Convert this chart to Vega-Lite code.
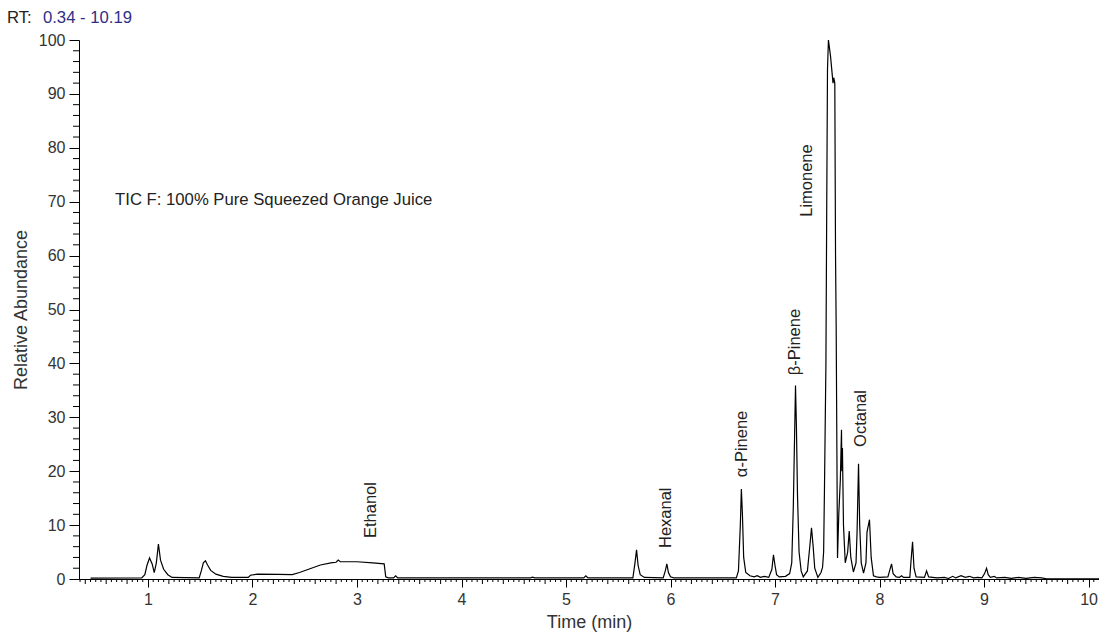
{
  "$schema": "https://vega.github.io/schema/vega-lite/v6.json",
  "width": 1020,
  "height": 539,
  "autosize": {"type": "none"},
  "padding": {"left": 79, "top": 40, "right": 0, "bottom": 57},
  "background": "white",
  "config": {
    "view": {"stroke": null},
    "font": "Liberation Sans",
    "axis": {
      "domainColor": "black",
      "tickColor": "black",
      "labelColor": "#333333",
      "titleColor": "#333333",
      "labelFont": "Liberation Sans",
      "titleFont": "Liberation Sans",
      "labelFontSize": 16,
      "titleFontSize": 18,
      "titleFontWeight": "normal",
      "grid": false
    }
  },
  "datasets": {
    "trace": [
      {"t": 0.45, "a": 0.15}, {"t": 0.94, "a": 0.2}, {"t": 0.97, "a": 0.8}, {"t": 0.99, "a": 2.5},
      {"t": 1.015, "a": 3.9}, {"t": 1.04, "a": 2.8}, {"t": 1.06, "a": 1.2}, {"t": 1.08, "a": 3.0},
      {"t": 1.10, "a": 6.5}, {"t": 1.12, "a": 3.5}, {"t": 1.15, "a": 1.8}, {"t": 1.19, "a": 0.8},
      {"t": 1.23, "a": 0.3}, {"t": 1.49, "a": 0.2}, {"t": 1.51, "a": 1.5}, {"t": 1.53, "a": 3.0},
      {"t": 1.55, "a": 3.4}, {"t": 1.57, "a": 2.6}, {"t": 1.60, "a": 1.6}, {"t": 1.65, "a": 0.9},
      {"t": 1.72, "a": 0.5}, {"t": 1.80, "a": 0.3}, {"t": 1.96, "a": 0.3}, {"t": 1.98, "a": 0.7},
      {"t": 2.05, "a": 0.9}, {"t": 2.25, "a": 0.85}, {"t": 2.38, "a": 0.8}, {"t": 2.45, "a": 1.2},
      {"t": 2.55, "a": 1.9}, {"t": 2.65, "a": 2.6}, {"t": 2.75, "a": 3.0}, {"t": 2.80, "a": 3.1},
      {"t": 2.82, "a": 3.5}, {"t": 2.84, "a": 3.2}, {"t": 3.0, "a": 3.2}, {"t": 3.15, "a": 3.0},
      {"t": 3.26, "a": 2.8}, {"t": 3.275, "a": 0.4}, {"t": 3.30, "a": 0.2}, {"t": 3.35, "a": 0.2},
      {"t": 3.37, "a": 0.6}, {"t": 3.39, "a": 0.2}, {"t": 4.66, "a": 0.2}, {"t": 4.68, "a": 0.35},
      {"t": 4.70, "a": 0.2}, {"t": 5.17, "a": 0.2}, {"t": 5.19, "a": 0.6}, {"t": 5.21, "a": 0.2},
      {"t": 5.64, "a": 0.2}, {"t": 5.66, "a": 3.0}, {"t": 5.675, "a": 5.4}, {"t": 5.69, "a": 2.5},
      {"t": 5.71, "a": 0.8}, {"t": 5.75, "a": 0.3}, {"t": 5.93, "a": 0.2}, {"t": 5.95, "a": 1.5},
      {"t": 5.965, "a": 2.8}, {"t": 5.98, "a": 1.2}, {"t": 6.0, "a": 0.4}, {"t": 6.03, "a": 0.2},
      {"t": 6.63, "a": 0.2}, {"t": 6.65, "a": 1.5}, {"t": 6.668, "a": 10}, {"t": 6.678, "a": 16.7},
      {"t": 6.688, "a": 12}, {"t": 6.70, "a": 4}, {"t": 6.72, "a": 1.2}, {"t": 6.76, "a": 0.6},
      {"t": 6.80, "a": 0.4}, {"t": 6.83, "a": 0.6}, {"t": 6.86, "a": 0.3}, {"t": 6.90, "a": 0.5},
      {"t": 6.94, "a": 0.3}, {"t": 6.97, "a": 1.8}, {"t": 6.985, "a": 4.5}, {"t": 7.0, "a": 2.5},
      {"t": 7.015, "a": 0.8}, {"t": 7.04, "a": 0.4}, {"t": 7.10, "a": 0.5}, {"t": 7.14, "a": 1.0},
      {"t": 7.16, "a": 3.0}, {"t": 7.175, "a": 13.4}, {"t": 7.196, "a": 35.9}, {"t": 7.205, "a": 28},
      {"t": 7.215, "a": 15.6}, {"t": 7.23, "a": 5}, {"t": 7.25, "a": 1.5}, {"t": 7.27, "a": 0.4},
      {"t": 7.31, "a": 1.5}, {"t": 7.335, "a": 6.5}, {"t": 7.349, "a": 9.5}, {"t": 7.365, "a": 6},
      {"t": 7.38, "a": 2}, {"t": 7.41, "a": 0.3}, {"t": 7.44, "a": 1.2}, {"t": 7.455, "a": 2.2},
      {"t": 7.465, "a": 5}, {"t": 7.473, "a": 16.5}, {"t": 7.487, "a": 40}, {"t": 7.495, "a": 70},
      {"t": 7.502, "a": 94.5}, {"t": 7.511, "a": 100}, {"t": 7.531, "a": 97}, {"t": 7.555, "a": 92},
      {"t": 7.562, "a": 93}, {"t": 7.572, "a": 92}, {"t": 7.579, "a": 60}, {"t": 7.585, "a": 47},
      {"t": 7.598, "a": 3.9}, {"t": 7.61, "a": 12}, {"t": 7.625, "a": 18.4}, {"t": 7.636, "a": 27.7},
      {"t": 7.64, "a": 20}, {"t": 7.645, "a": 24.3}, {"t": 7.655, "a": 10}, {"t": 7.672, "a": 3.0},
      {"t": 7.695, "a": 5}, {"t": 7.71, "a": 8.9}, {"t": 7.725, "a": 4}, {"t": 7.75, "a": 1.3},
      {"t": 7.775, "a": 3}, {"t": 7.785, "a": 8.7}, {"t": 7.799, "a": 21.4}, {"t": 7.81, "a": 10},
      {"t": 7.825, "a": 3}, {"t": 7.847, "a": 1.1}, {"t": 7.87, "a": 3}, {"t": 7.88, "a": 8.7},
      {"t": 7.904, "a": 11}, {"t": 7.92, "a": 4}, {"t": 7.942, "a": 0.6}, {"t": 7.97, "a": 0.4},
      {"t": 8.0, "a": 0.3}, {"t": 8.08, "a": 0.4}, {"t": 8.10, "a": 1.8}, {"t": 8.115, "a": 2.8},
      {"t": 8.13, "a": 1.0}, {"t": 8.16, "a": 0.4}, {"t": 8.19, "a": 0.3}, {"t": 8.21, "a": 0.6},
      {"t": 8.23, "a": 0.3}, {"t": 8.29, "a": 0.3}, {"t": 8.30, "a": 3}, {"t": 8.316, "a": 6.9},
      {"t": 8.33, "a": 2.0}, {"t": 8.35, "a": 0.4}, {"t": 8.43, "a": 0.3}, {"t": 8.45, "a": 1.5},
      {"t": 8.47, "a": 0.4}, {"t": 8.55, "a": 0.2}, {"t": 8.62, "a": 0.3}, {"t": 8.66, "a": 0.1},
      {"t": 8.70, "a": 0.5}, {"t": 8.73, "a": 0.2}, {"t": 8.78, "a": 0.6}, {"t": 8.82, "a": 0.3},
      {"t": 8.86, "a": 0.5}, {"t": 8.90, "a": 0.2}, {"t": 8.94, "a": 0.3}, {"t": 8.98, "a": 0.2},
      {"t": 9.005, "a": 1.0}, {"t": 9.024, "a": 2.0}, {"t": 9.04, "a": 0.8}, {"t": 9.06, "a": 0.3},
      {"t": 9.10, "a": 0.5}, {"t": 9.12, "a": 0.2}, {"t": 9.20, "a": 0.3}, {"t": 9.26, "a": 0.1},
      {"t": 9.33, "a": 0.3}, {"t": 9.40, "a": 0.1}, {"t": 9.48, "a": 0.3}, {"t": 9.55, "a": 0.2},
      {"t": 9.60, "a": 0.05}, {"t": 10.19, "a": 0.05}
    ],
    "peaks": [
      {"name": "Ethanol", "t": 3.13, "a": 7.6},
      {"name": "Hexanal", "t": 5.96, "a": 5.75},
      {"name": "α-Pinene", "t": 6.68, "a": 18.9},
      {"name": "β-Pinene", "t": 7.19, "a": 37.8},
      {"name": "Limonene", "t": 7.31, "a": 67.2},
      {"name": "Octanal", "t": 7.82, "a": 24.5}
    ],
    "notes": [
      {"text": "TIC F: 100% Pure Squeezed Orange Juice", "t": 0.685, "a": 69.4},
      {"text": "RT:", "t": -0.35, "a": 103.2}
    ],
    "range": [
      {"text": "0.34 - 10.19", "t": -0.005, "a": 103.2}
    ],
    "yMinor": [
      {"a": 2}, {"a": 4}, {"a": 6}, {"a": 8}, {"a": 12}, {"a": 14}, {"a": 16}, {"a": 18},
      {"a": 22}, {"a": 24}, {"a": 26}, {"a": 28}, {"a": 32}, {"a": 34}, {"a": 36}, {"a": 38},
      {"a": 42}, {"a": 44}, {"a": 46}, {"a": 48}, {"a": 52}, {"a": 54}, {"a": 56}, {"a": 58},
      {"a": 62}, {"a": 64}, {"a": 66}, {"a": 68}, {"a": 72}, {"a": 74}, {"a": 76}, {"a": 78},
      {"a": 82}, {"a": 84}, {"a": 86}, {"a": 88}, {"a": 92}, {"a": 94}, {"a": 96}, {"a": 98}
    ],
    "xMid": [
      {"t": 0.4}, {"t": 0.6}, {"t": 0.8}, {"t": 1.2}, {"t": 1.4}, {"t": 1.6}, {"t": 1.8},
      {"t": 2.2}, {"t": 2.4}, {"t": 2.6}, {"t": 2.8}, {"t": 3.2}, {"t": 3.4}, {"t": 3.6}, {"t": 3.8},
      {"t": 4.2}, {"t": 4.4}, {"t": 4.6}, {"t": 4.8}, {"t": 5.2}, {"t": 5.4}, {"t": 5.6}, {"t": 5.8},
      {"t": 6.2}, {"t": 6.4}, {"t": 6.6}, {"t": 6.8}, {"t": 7.2}, {"t": 7.4}, {"t": 7.6}, {"t": 7.8},
      {"t": 8.2}, {"t": 8.4}, {"t": 8.6}, {"t": 8.8}, {"t": 9.2}, {"t": 9.4}, {"t": 9.6}, {"t": 9.8}
    ],
    "xSmall": [
      {"t": 0.35}, {"t": 0.45}, {"t": 0.5}, {"t": 0.55}, {"t": 0.65}, {"t": 0.7}, {"t": 0.75}, {"t": 0.85}, {"t": 0.9}, {"t": 0.95},
      {"t": 1.05}, {"t": 1.1}, {"t": 1.15}, {"t": 1.25}, {"t": 1.3}, {"t": 1.35}, {"t": 1.45}, {"t": 1.5}, {"t": 1.55}, {"t": 1.65}, {"t": 1.7}, {"t": 1.75}, {"t": 1.85}, {"t": 1.9}, {"t": 1.95},
      {"t": 2.05}, {"t": 2.1}, {"t": 2.15}, {"t": 2.25}, {"t": 2.3}, {"t": 2.35}, {"t": 2.45}, {"t": 2.5}, {"t": 2.55}, {"t": 2.65}, {"t": 2.7}, {"t": 2.75}, {"t": 2.85}, {"t": 2.9}, {"t": 2.95},
      {"t": 3.05}, {"t": 3.1}, {"t": 3.15}, {"t": 3.25}, {"t": 3.3}, {"t": 3.35}, {"t": 3.45}, {"t": 3.5}, {"t": 3.55}, {"t": 3.65}, {"t": 3.7}, {"t": 3.75}, {"t": 3.85}, {"t": 3.9}, {"t": 3.95},
      {"t": 4.05}, {"t": 4.1}, {"t": 4.15}, {"t": 4.25}, {"t": 4.3}, {"t": 4.35}, {"t": 4.45}, {"t": 4.5}, {"t": 4.55}, {"t": 4.65}, {"t": 4.7}, {"t": 4.75}, {"t": 4.85}, {"t": 4.9}, {"t": 4.95},
      {"t": 5.05}, {"t": 5.1}, {"t": 5.15}, {"t": 5.25}, {"t": 5.3}, {"t": 5.35}, {"t": 5.45}, {"t": 5.5}, {"t": 5.55}, {"t": 5.65}, {"t": 5.7}, {"t": 5.75}, {"t": 5.85}, {"t": 5.9}, {"t": 5.95},
      {"t": 6.05}, {"t": 6.1}, {"t": 6.15}, {"t": 6.25}, {"t": 6.3}, {"t": 6.35}, {"t": 6.45}, {"t": 6.5}, {"t": 6.55}, {"t": 6.65}, {"t": 6.7}, {"t": 6.75}, {"t": 6.85}, {"t": 6.9}, {"t": 6.95},
      {"t": 7.05}, {"t": 7.1}, {"t": 7.15}, {"t": 7.25}, {"t": 7.3}, {"t": 7.35}, {"t": 7.45}, {"t": 7.5}, {"t": 7.55}, {"t": 7.65}, {"t": 7.7}, {"t": 7.75}, {"t": 7.85}, {"t": 7.9}, {"t": 7.95},
      {"t": 8.05}, {"t": 8.1}, {"t": 8.15}, {"t": 8.25}, {"t": 8.3}, {"t": 8.35}, {"t": 8.45}, {"t": 8.5}, {"t": 8.55}, {"t": 8.65}, {"t": 8.7}, {"t": 8.75}, {"t": 8.85}, {"t": 8.9}, {"t": 8.95},
      {"t": 9.05}, {"t": 9.1}, {"t": 9.15}, {"t": 9.25}, {"t": 9.3}, {"t": 9.35}, {"t": 9.45}, {"t": 9.5}, {"t": 9.55}, {"t": 9.65}, {"t": 9.7}, {"t": 9.75}, {"t": 9.85}, {"t": 9.9}, {"t": 9.95},
      {"t": 10.05}
    ]
  },
  "layer": [
    {
      "data": {"name": "trace"},
      "mark": {"type": "line", "color": "black", "strokeWidth": 1.2, "clip": true},
      "encoding": {
        "x": {
          "field": "t", "type": "quantitative",
          "scale": {"domain": [0.34, 10.1], "nice": false, "zero": false},
          "axis": {
            "orient": "bottom", "title": "Time (min)",
            "values": [1, 2, 3, 4, 5, 6, 7, 8, 9, 10],
            "format": "d", "tickSize": 8, "labelPadding": 4, "titlePadding": 6,
            "labelFlush": false
          }
        },
        "y": {
          "field": "a", "type": "quantitative",
          "scale": {"domain": [0, 100], "nice": false},
          "axis": {
            "orient": "left", "title": "Relative Abundance",
            "values": [0, 10, 20, 30, 40, 50, 60, 70, 80, 90, 100],
            "tickSize": 10, "labelPadding": 4, "titlePadding": 8
          }
        }
      }
    },
    {
      "data": {"name": "yMinor"},
      "mark": {"type": "rule", "color": "black", "strokeWidth": 1},
      "encoding": {
        "x": {"datum": 0.34, "type": "quantitative", "scale": {"domain": [0.34, 10.1], "nice": false, "zero": false}},
        "x2": {"datum": 0.2826},
        "y": {"field": "a", "type": "quantitative", "scale": {"domain": [0, 100], "nice": false}}
      }
    },
    {
      "data": {"name": "xMid"},
      "mark": {"type": "rule", "color": "black", "strokeWidth": 1},
      "encoding": {
        "x": {"field": "t", "type": "quantitative", "scale": {"domain": [0.34, 10.1], "nice": false, "zero": false}},
        "y": {"datum": 0, "type": "quantitative", "scale": {"domain": [0, 100], "nice": false}},
        "y2": {"datum": -0.93}
      }
    },
    {
      "data": {"name": "xSmall"},
      "mark": {"type": "rule", "color": "black", "strokeWidth": 1},
      "encoding": {
        "x": {"field": "t", "type": "quantitative", "scale": {"domain": [0.34, 10.1], "nice": false, "zero": false}},
        "y": {"datum": 0, "type": "quantitative", "scale": {"domain": [0, 100], "nice": false}},
        "y2": {"datum": -0.56}
      }
    },
    {
      "data": {"name": "peaks"},
      "mark": {"type": "text", "angle": 270, "align": "left", "baseline": "middle", "fontSize": 16.5, "color": "#222222", "font": "Liberation Sans"},
      "encoding": {
        "x": {"field": "t", "type": "quantitative", "scale": {"domain": [0.34, 10.1], "nice": false, "zero": false}},
        "y": {"field": "a", "type": "quantitative", "scale": {"domain": [0, 100], "nice": false}},
        "text": {"field": "name"}
      }
    },
    {
      "data": {"name": "notes"},
      "mark": {"type": "text", "align": "left", "baseline": "alphabetic", "fontSize": 16.7, "color": "#222222", "font": "Liberation Sans"},
      "encoding": {
        "x": {"field": "t", "type": "quantitative", "scale": {"domain": [0.34, 10.1], "nice": false, "zero": false}},
        "y": {"field": "a", "type": "quantitative", "scale": {"domain": [0, 100], "nice": false}},
        "text": {"field": "text"}
      }
    },
    {
      "data": {"name": "range"},
      "mark": {"type": "text", "align": "left", "baseline": "alphabetic", "fontSize": 16.7, "color": "#2e2e86", "font": "Liberation Sans"},
      "encoding": {
        "x": {"field": "t", "type": "quantitative", "scale": {"domain": [0.34, 10.1], "nice": false, "zero": false}},
        "y": {"field": "a", "type": "quantitative", "scale": {"domain": [0, 100], "nice": false}},
        "text": {"field": "text"}
      }
    }
  ]
}
